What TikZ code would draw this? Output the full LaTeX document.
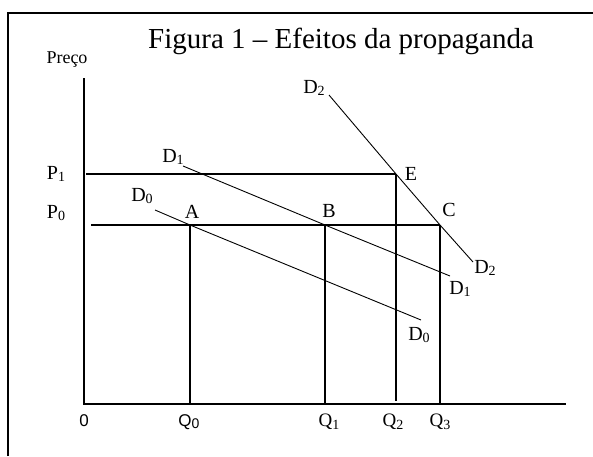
\documentclass[tikz,border=0pt]{standalone}
\usepackage{fontspec}
\setmainfont{Liberation Serif}
\newfontfamily\axisfont{Liberation Sans}
\usepackage{tikz}
\usetikzlibrary{calc,positioning}
\newcommand{\sub}[1]{\raisebox{-0.28ex}{\fontsize{14}{15}\selectfont #1}}
\tikzset{
    lbl/.style={inner sep=0pt, font=\fontsize{20}{22}\selectfont},
    qlbl/.style={inner sep=0pt, font=\fontsize{19}{21}\selectfont},
    guide/.style={line width=1.2pt},
    demand/.style={line width=0.9pt},
    axis/.style={line width=2.2pt}
}

\begin{document}
\begin{tikzpicture}[x=1pt,y=-1pt]
    \useasboundingbox (0,0) rectangle (593,456);

    % frame
    \draw[line width=1.4pt] (8,456) -- (8,13) -- (593,13);

    % title
    \node[inner sep=0pt, font=\fontsize{29}{32}\selectfont, anchor=base west] (title) at (148,48) {Figura 1 -- Efeitos da propaganda};

    % axes
    \coordinate (O) at (84,404);
    \coordinate (ytop) at (84,78);
    \coordinate (xend) at (566,404);
    \draw[axis] (ytop) -- (O) -- (xend);
    \node[lbl, font=\fontsize{18}{20}\selectfont] (preco) at (67,60) {Preço};
    \node[qlbl, font=\axisfont\fontsize{17}{19}\selectfont] (zero) at (84,421) {0};

    % equilibrium points
    \coordinate (A) at (190,225);
    \coordinate (B) at (325,225);
    \coordinate (C) at (440,225);
    \coordinate (E) at (396,174);

    % price lines
    \coordinate (p1s) at (86,174);
    \coordinate (p0s) at (91,225);
    \draw[guide] (p1s) -- (E);
    \draw[guide] (p0s) -- (C);
    \node[lbl] (P1) at (56,174) {P\sub{1}};
    \node[lbl] (P0) at (56,213) {P\sub{0}};

    % quantity lines
    \draw[guide] (A) -- (A |- O);
    \draw[guide] (B) -- (B |- O);
    \draw[guide] (E) -- ($(E |- O)+(0,-3)$);
    \draw[guide] (C) -- (C |- O);
    \node[qlbl, font=\axisfont\fontsize{17}{19}\selectfont] (Q0) at (189,422) {Q\sub{0}};
    \node[qlbl] (Q1) at (329,422) {Q\sub{1}};
    \node[qlbl] (Q2) at (393,422) {Q\sub{2}};
    \node[qlbl] (Q3) at (440,422) {Q\sub{3}};

    % demand curves
    \coordinate (d0s) at (155,210);
    \coordinate (d0e) at (421,320);
    \coordinate (d1s) at (183,166);
    \coordinate (d1e) at (450,276);
    \coordinate (d2s) at (329,95);
    \coordinate (d2e) at (473,262);
    \draw[demand] (d0s) -- (A) -- (d0e);
    \draw[demand] (d1s) -- (B) -- (d1e);
    \draw[demand] (d2s) -- (E) -- (C) -- (d2e);

    % curve labels
    \node[lbl] (D0a) at (142,196) {D\sub{0}};
    \node[lbl] (D0b) at (419,335) {D\sub{0}};
    \node[lbl] (D1a) at (173,157) {D\sub{1}};
    \node[lbl] (D1b) at (460,289) {D\sub{1}};
    \node[lbl] (D2a) at (314,88) {D\sub{2}};
    \node[lbl] (D2b) at (485,268) {D\sub{2}};

    % point labels
    \node[lbl] (Alab) at (192,212) {A};
    \node[lbl] (Blab) at (329,211) {B};
    \node[lbl] (Clab) at (449,210) {C};
    \node[lbl] (Elab) at (411,174) {E};
\end{tikzpicture}
\end{document}
